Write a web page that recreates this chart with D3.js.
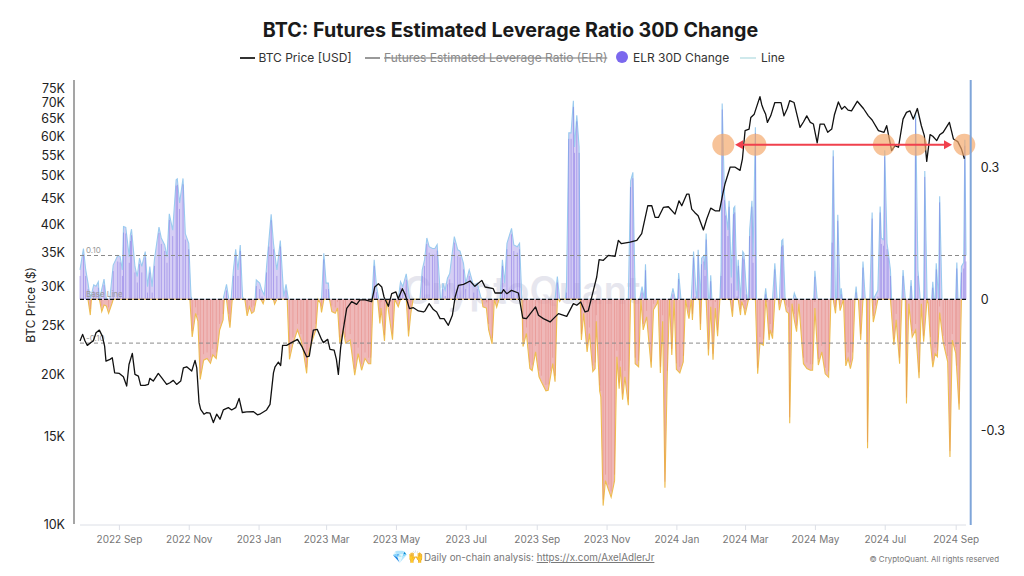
<!DOCTYPE html>
<html><head><meta charset="utf-8">
<script src="https://cdn.jsdelivr.net/npm/d3@7"></script>
<style>
html,body{margin:0;padding:0;background:#fff;overflow:hidden}
svg{display:block;font-family:Inter,"Noto Sans",sans-serif}
</style></head><body><svg id="c" width="1024" height="576"></svg>
<script>
const startDate = new Date(2022, 6, 29);
const titleText = "BTC: Futures Estimated Leverage Ratio 30D Change";
const priceTicks = [10000,15000,20000,25000,30000,35000,40000,45000,50000,55000,60000,65000,70000,75000];
const elrTicks = [0.3,0,-0.3];
const monthTicks = ["2022-09","2022-11","2023-01","2023-03","2023-05","2023-07","2023-09","2023-11","2024-01","2024-03","2024-05","2024-07","2024-09"];
const refLevels = [[0.10,"0.10"],[-0.10,"-0.10"]];
const circleDays = [562,590,702.3,730.5,772.5];
const arrowDays = [574,760];
const arrowPrice = 57700;

// [days since start, BTC price USD]
const price = [[0,23290],[2.3,24020],[4.4,23290],[6.4,22830],[9.3,23120],[11.6,23290],[14,24200],[16.9,24500],[19.5,23830],[21.5,22760],[22.7,21230],[26.2,21400],[28.2,21560],[30.3,20110],[34.4,20050],[37.9,19750],[40.8,18920],[42.8,20900],[45.7,22000],[48,19960],[51,19810],[53,18970],[56.8,18970],[59.7,19060],[61,19600],[64,19360],[68.4,20050],[71.3,19660],[75.7,19060],[78.6,19210],[81.5,19420],[84.4,19060],[88,19360],[90.3,20580],[93.2,20680],[97.6,20270],[100.5,21300],[102,20580],[104,17520],[105.4,16990],[108.3,16610],[110.7,16740],[113.6,16690],[116.5,15980],[119.4,16610],[122.3,16230],[125.2,16940],[129.6,17120],[132.5,16940],[136,17120],[139,17870],[141.8,16740],[145.6,16790],[151.4,16810],[155,16560],[157,16610],[163,16940],[166,17380],[169,20110],[170.4,20680],[173.3,21130],[175.3,20800],[177,22830],[180.5,22830],[183.5,23040],[190,23470],[193.6,22760],[198,21660],[200.3,21730],[203.8,24500],[207.3,24580],[211,23470],[212.6,23120],[216.4,23470],[218.4,22410],[222,22340],[224,21400],[225.7,19960],[227.7,22590],[230,24580],[233,27100],[237.3,27950],[241.7,27600],[244.6,28160],[249,28160],[254.8,27950],[257.5,29900],[260.7,30360],[263.6,29900],[265.6,28550],[269.4,27350],[272.3,28990],[276,29220],[278,28330],[281.6,29670],[284,28900],[287.8,27060],[291,27190],[295.6,26770],[300,26640],[301.4,26770],[305,27690],[308.7,26940],[311.6,26640],[314.6,25830],[318,25830],[321.8,25050],[325.3,26230],[327.7,28550],[330.6,30130],[335,30270],[340.8,30740],[345,29990],[351,30830],[353.9,29900],[361,29670],[362.6,29080],[368.4,29080],[369.9,29530],[372.8,28990],[377,29440],[383,29080],[386.8,25910],[390,25830],[398,27270],[400.5,26230],[404.8,25830],[410.7,25440],[413.6,25830],[418,26440],[425.2,26110],[431,27690],[434,27480],[437.4,27900],[441.2,26640],[444,26770],[448.5,29440],[451.4,31310],[453.5,33930],[457.2,33830],[461.6,34610],[467.4,34450],[470.3,37090],[473,36520],[480.5,36800],[486.4,37090],[490.7,38250],[496,43520],[499.5,43520],[502.4,41240],[505.3,41240],[509.6,43190],[514,43320],[519.8,41880],[523.3,44530],[525.7,43520],[530,45920],[532,45920],[534.4,42850],[537,42200],[540,41560],[544.6,38920],[547.5,40930],[551,43050],[554.8,42520],[558.6,42520],[561.5,45920],[563.5,48190],[568,52050],[572,52050],[576.6,51250],[578.7,54080],[581,61570],[584.5,62040],[586,65450],[589,66460],[594,72060],[595.5,69500],[597,68000],[599,66400],[600.5,63980],[603.4,65950],[607,70130],[612.4,70130],[615,65950],[618,68300],[620,70740],[623.8,70130],[626,66800],[629,62520],[632,64100],[634.9,65950],[638,64000],[640.7,63490],[644,58180],[646.5,63490],[650,63490],[653.2,61100],[656.7,62040],[659,66200],[662.5,70310],[665.4,68000],[668,68900],[671,67700],[674,67490],[679,70530],[684.4,68220],[688.7,65950],[692,64700],[697.5,61570],[702.4,61100],[704.7,63000],[707,59300],[709,56170],[712,57480],[715,57040],[719,64950],[722,67000],[725,67490],[728,64950],[731.5,68220],[735,63000],[737.6,60190],[739.7,53420],[742.6,60470],[745,60000],[748.4,58810],[751,60400],[754,61100],[759.5,63980],[763,59270],[766.8,58540],[770,56610],[772.6,54080]];

// [days since start, ELR 30D change] above the base line
const elrPositive = [[0,.067],[3,.116],[5,.067],[7,.037],[9,0],[12,.033],[14,.03],[16,.04],[17,0],[21,.046],[23,0],[26,0],[29,.078],[33,.1],[35,.098],[37,.067],[38,.166],[40,.164],[43,.097],[44,.147],[45,.16],[48,.075],[50,.052],[52,.094],[54,.075],[57,.109],[59,.029],[61,.075],[63,.029],[65,.09],[69,.165],[71,.14],[74,.124],[76,.097],[78,.195],[81,.158],[84,.273],[85,.275],[87,.22],[90,.276],[92,.15],[95,.128],[97,.006],[98,0],
[125,0],[128,.034],[130,0],[132,0],[134,.067],[136,.114],[138,.067],[140,.124],[142,.006],[143,0],[153,0],[154,.044],[157,.037],[159,.02],[161,.01],[163,.075],[165,.134],[167,.194],[169,.128],[172,.067],[175,.134],[178,.006],[180,.034],[182,0],[211,0],[213,.105],[215,.037],[217,.037],[218,0],[255,0],[257,.09],[259,.03],[261,0],
[278,0],[280,.04],[282,.029],[285,.058],[288,0],[297,0],[299,.067],[301,.09],[303,.14],[305,.12],[308,.116],[310,.116],[312,.125],[315,0],[316,0],[317,.037],[319,.021],[321,.048],[323,.059],[327,.143],[330,.113],[332,.11],[335,.082],[337,.037],[340,.067],[344,.029],[347,.037],[350,.006],[351,0],[367,0],[369,.09],[371,.037],[373,.128],[377,.162],[379,.124],[382,.12],[384,.128],[386,0],
[415,0],[417,.052],[419,0],[424,0],[425,.029],[427,.38],[429,.38],[431,.453],[432,.348],[434,.42],[436,.348],[437,0],[479,0],[481,.27],[483,.29],[485,0],[489,0],[491,.029],[493,0],[494,.08],[495,0],[516,0],[518,.025],[520,0],[522,0],[523,.06],[525,0],
[534,0],[536,.109],[538,.02],[539,0],[540,.113],[542,0],[543,.094],[545,.1],[546,.067],[547,.15],[549,0],[550,0],[551,.055],[552,0],[559,0],[560,.067],[561,.447],[563,.24],[564,.205],[566,.158],[567,.225],[569,.05],[571,.208],[572,.212],[574,.02],[575,.09],[577,0],[579,.109],[580,.105],[582,.025],[583,0],[584,0],[585,.158],[587,.225],[588,.097],[590,.393],[591,0],
[598,0],[599,.025],[600,0],[605,0],[607,.082],[609,0],[611,0],[613,.134],[614,.137],[616,0],[623,0],[624,.014],[626,0],[641,0],[642,.065],[644,0],[656,0],[657,.143],[658,.34],[660,0],[661,0],[662,.193],[664,0],[665,.025],[666,0],[677,0],[678,.029],[679,0],[683,0],[684,.086],[686,0],[690,0],[692,.198],[693,0],[697,.02],[699,.212],[700,.14],[702,.136],[703,.34],[705,.128],[706,.109],[708,.067],[709,0],
[718,0],[719,.067],[721,0],[725,0],[726,.044],[727,0],[729,0],[730,.425],[732,.067],[734,0],[737,0],[738,.293],[740,0],[744,0],[745,.04],[746,0],[747,0],[748,.082],[750,0],[751,.235],[753,0],[765,0],[766,.084],[767,0],[769,0],[770,.075],[772,.084],[773,.364],[774,.1]];

// [days since start, ELR 30D change] below the base line
const elrNegative = [[7,0],[9,-.036],[10,0],[17,0],[19,-.028],[21,-.013],[23,-.015],[25,-.032],[28,-.009],[29,0],[96,0],[98,-.086],[101,-.032],[103,-.05],[105,-.183],[108,-.139],[111,-.135],[114,-.146],[116,-.127],[119,-.135],[122,-.07],[125,-.047],[126,0],[128,0],[130,-.047],[131,-.065],[133,0],[144,0],[146,-.038],[148,-.017],[150,-.032],[152,-.028],[154,0],[158,0],[160,-.01],[161,0],[169,0],[170,-.011],[172,0],
[181,0],[183,-.137],[186,-.101],[190,-.07],[193,-.093],[195,-.116],[198,-.169],[199,-.131],[202,-.101],[206,-.07],[208,0],[210,-.009],[211,-.03],[213,0],[218,0],[220,-.028],[223,-.032],[225,-.02],[227,-.1],[230,-.07],[232,-.1],[236,-.093],[240,-.173],[243,-.124],[246,-.162],[249,-.135],[252,-.147],[254,-.147],[256,0],[260,0],[262,-.055],[263,-.02],[266,-.095],[268,0],[269,-.017],[273,-.092],[275,0],[278,-.017],[280,0],[285,0],[287,-.085],[289,-.032],[291,0],
[351,0],[352,-.017],[355,-.02],[357,-.07],[360,-.102],[362,0],[364,-.018],[366,0],[386,0],[387,-.108],[390,-.078],[393,-.158],[395,-.163],[398,-.12],[401,-.177],[403,-.188],[407,-.209],[409,-.208],[411,-.177],[413,-.147],[415,-.188],[417,0],[418,0],[419,-.005],[420,0],
[437,0],[438,-.093],[440,-.032],[443,-.12],[445,-.078],[448,-.165],[450,-.158],[451,-.05],[454,-.21],[455,-.223],[457,-.471],[459,-.414],[462,-.437],[464,-.452],[467,-.414],[469,-.131],[471,-.204],[472,-.154],[474,-.229],[476,-.177],[479,-.242],[481,0],[484,0],[485,-.147],[488,-.154],[490,0],[492,-.07],[495,-.04],[499,-.156],[501,-.024],[504,-.01],[505,0],[507,-.168],[509,-.05],[511,-.43],[513,-.177],[515,0],[517,-.127],[519,0],[521,-.16],[524,-.168],[527,-.143],[529,0],[531,-.032],[532,-.044],[534,0],[535,-.047],[536,0],
[541,0],[542,-.07],[543,0],[547,0],[549,-.128],[551,-.017],[553,-.138],[555,-.02],[557,-.084],[559,0],[568,0],[570,-.04],[571,0],[575,0],[577,-.036],[578,-.005],[580,-.02],[581,-.036],[584,0],[590,0],[592,-.17],[594,-.1],[597,-.105],[599,0],[600,-.02],[602,-.093],[603,-.07],[605,-.09],[607,0],[610,0],[611,-.025],[613,0],[615,0],[617,-.028],[619,-.032],[620,-.283],[622,-.01],[624,-.047],[626,-.074],[628,-.01],[632,-.147],[635,-.158],[638,-.162],[640,-.162],[642,-.02],[645,-.15],[648,-.12],[651,-.17],[654,-.178],[656,0],[658,0],[660,-.032],[661,0],[663,0],[664,-.026],[667,0],[669,-.152],[671,-.135],[673,-.158],[675,-.135],[677,0],[680,0],[682,-.093],[684,0],[687,0],[688,-.34],[690,0],[692,0],[693,-.052],[695,-.028],[697,0],
[708,0],[711,-.104],[713,-.047],[716,-.147],[718,0],[721,0],[722,-.238],[724,-.01],[727,-.086],[730,-.07],[733,-.18],[735,-.01],[737,-.097],[740,0],[741,-.01],[743,-.1],[745,-.155],[747,-.124],[749,-.131],[751,-.03],[754,-.097],[756,-.12],[758,-.143],[760,-.36],[762,-.093],[765,-.123],[766,-.165],[768,-.252],[770,0]];

const toDate = d => d3.timeMinute.offset(startDate, d * 1440);
const svg = d3.select("#c");
const x = d3.scaleTime().domain([startDate, toDate(774)]).range([80, 966]);
const yPrice = d3.scaleLog().domain([10000, 75000]).range([524, 88]);
const yElr = d3.scaleLinear().domain([-0.5, 0.5]).range([518.3, 80.3]);

// title
svg.append("text").attr("x", 510.5).attr("y", 37).attr("text-anchor", "middle")
  .attr("font-size", 19.7).attr("font-weight", 700).attr("fill", "#1a1a1a").text(titleText);

// legend
const lg = svg.append("g").attr("font-size", 12).attr("fill", "#333");
lg.append("line").attr("x1", 240).attr("x2", 255).attr("y1", 58).attr("y2", 58).attr("stroke", "#333").attr("stroke-width", 2);
lg.append("text").attr("x", 258.5).attr("y", 62).text("BTC Price [USD]");
lg.append("line").attr("x1", 365).attr("x2", 380).attr("y1", 58).attr("y2", 58).attr("stroke", "#999").attr("stroke-width", 2);
lg.append("text").attr("x", 384).attr("y", 62).attr("fill", "#8a8a8a").attr("text-decoration", "line-through").text("Futures Estimated Leverage Ratio (ELR)");
lg.append("circle").attr("cx", 622).attr("cy", 57).attr("r", 6).attr("fill", "#7b68ee");
lg.append("text").attr("x", 633).attr("y", 62).text("ELR 30D Change");
lg.append("line").attr("x1", 740).attr("x2", 756).attr("y1", 58).attr("y2", 58).attr("stroke", "#cfe9ec").attr("stroke-width", 2);
lg.append("text").attr("x", 761).attr("y", 62).text("Line");

// watermark
svg.append("text").attr("x", 522).attr("y", 304).attr("text-anchor", "middle").attr("font-size", 38)
  .attr("font-weight", 600).attr("fill", "#e6e6ee").text("CryptoQuant");

// ELR marks
const area = d3.area().x(d => x(toDate(d[0]))).y0(yElr(0)).y1(d => yElr(d[1]));
const line = d3.line().x(d => x(toDate(d[0]))).y(d => yElr(d[1]));
[[elrPositive, "#b3a6ec", "#9acbef", "#6f5ce0", .55, .5], [elrNegative, "#e9a0a0", "#eebd50", "#e0605a", .75, .35]].forEach(([data, fill, stroke, bar, fo, bo]) => {
  const g = svg.append("g");
  g.append("path").datum(data).attr("d", area).attr("fill", fill).attr("fill-opacity", fo);
  g.append("path").datum(data).attr("d", line).attr("fill", "none").attr("stroke", stroke).attr("stroke-width", 1.1);
  g.selectAll("rect").data(data.filter(d => d[1] !== 0)).join("rect")
    .attr("x", d => x(toDate(d[0])) - .4).attr("width", .8)
    .attr("y", d => Math.min(yElr(d[1]) + 6, yElr(0)))
    .attr("height", d => Math.max(Math.abs(yElr(d[1]) - yElr(0)) - 6, 0))
    .attr("transform", d => d[1] < 0 ? `translate(0,0)` : null)
    .attr("y", d => d[1] > 0 ? yElr(d[1]) + 6 : yElr(0))
    .attr("fill", bar).attr("fill-opacity", bo);
});

// reference lines
refLevels.forEach(([v, t]) => {
  svg.append("line").attr("x1", 80).attr("x2", 966).attr("y1", yElr(v)).attr("y2", yElr(v))
    .attr("stroke", "#8a8a8a").attr("stroke-width", 1).attr("stroke-dasharray", "4 3");
  svg.append("text").attr("x", 86).attr("y", yElr(v) - 2.5).attr("font-size", 8).attr("fill", "#999").text(t);
});
svg.append("line").attr("x1", 80).attr("x2", 966).attr("y1", yElr(0)).attr("y2", yElr(0))
  .attr("stroke", "#111").attr("stroke-width", 1.2).attr("stroke-dasharray", "4 2");
svg.append("text").attr("x", 86).attr("y", yElr(0) - 2.5).attr("font-size", 8).attr("fill", "#999").text("Base Line");

// price
svg.append("path").datum(price)
  .attr("d", d3.line().x(d => x(toDate(d[0]))).y(d => yPrice(d[1])))
  .attr("fill", "none").attr("stroke", "#111").attr("stroke-width", 1.3).attr("stroke-linejoin", "round");

// annotations
svg.selectAll("circle.a").data(circleDays).join("circle").attr("class", "a")
  .attr("cx", d => x(toDate(d))).attr("cy", yPrice(arrowPrice)).attr("r", 11)
  .attr("fill", "#f3a769").attr("fill-opacity", .68);
const ax0 = x(toDate(arrowDays[0])) - 2, ax1 = x(toDate(arrowDays[1])) + 2, ay = yPrice(arrowPrice);
svg.append("line").attr("x1", ax0 + 4).attr("x2", ax1 - 4)
  .attr("y1", ay).attr("y2", ay).attr("stroke", "#f0414d").attr("stroke-width", 2.2);
svg.append("path").attr("d", `M${ax0},${ay}l8,-4.5v9z`).attr("fill", "#f0414d");
svg.append("path").attr("d", `M${ax1},${ay}l-8,-4.5v9z`).attr("fill", "#f0414d");

// axes
const fmtK = d => d / 1000 + "K";
const gl = svg.append("g").attr("transform", "translate(74,0)")
  .call(d3.axisLeft(yPrice).tickValues(priceTicks).tickFormat(fmtK).tickSize(0).tickPadding(9));
gl.select(".domain").attr("d", "M0,80V524").attr("stroke", "#8f8f8f").attr("stroke-width", 1.6);
gl.selectAll("text").attr("font-size", 12.5).attr("fill", "#222").attr("font-family", "Inter");

const gr = svg.append("g").attr("transform", "translate(970.7,0)")
  .call(d3.axisRight(yElr).tickValues(elrTicks).tickFormat(d => d === 0 ? "0" : d3.format(".1f")(d).replace("−", "-")).tickSize(0).tickPadding(10));
gr.select(".domain").attr("d", "M0,80V525").attr("stroke", "#7fa5d9").attr("stroke-width", 2);
gr.selectAll("text").attr("font-size", 12.5).attr("fill", "#222").attr("font-family", "Inter");

const gb = svg.append("g").attr("transform", "translate(0,525)")
  .call(d3.axisBottom(x).tickValues(monthTicks.map(d => d3.timeParse("%Y-%m")(d))).tickFormat(d3.timeFormat("%Y %b")).tickSize(5).tickPadding(6));
gb.select(".domain").attr("d", "M80,0H966").attr("stroke", "#dcdfe6");
gb.selectAll("line").attr("stroke", "#dcdfe6");
gb.selectAll("text").attr("font-size", 10).attr("fill", "#777").attr("font-family", "Inter");

svg.append("text").attr("transform", "translate(35,305) rotate(-90)").attr("text-anchor", "middle")
  .attr("font-size", 12).attr("fill", "#222").text("BTC Price ($)");

// footer
svg.append("text").attr("x", 392).attr("y", 561).attr("font-size", 12.5).text("💎🙌");
const ft = svg.append("text").attr("x", 424).attr("y", 561).attr("font-size", 9.8).attr("fill", "#777");
ft.append("tspan").text("Daily on-chain analysis: ");
ft.append("tspan").attr("text-decoration", "underline").text("https://x.com/AxelAdlerJr");
svg.append("text").attr("x", 999).attr("y", 562).attr("text-anchor", "end").attr("font-size", 7.9).attr("fill", "#777")
  .text("© CryptoQuant. All rights reserved");
</script></body></html>
